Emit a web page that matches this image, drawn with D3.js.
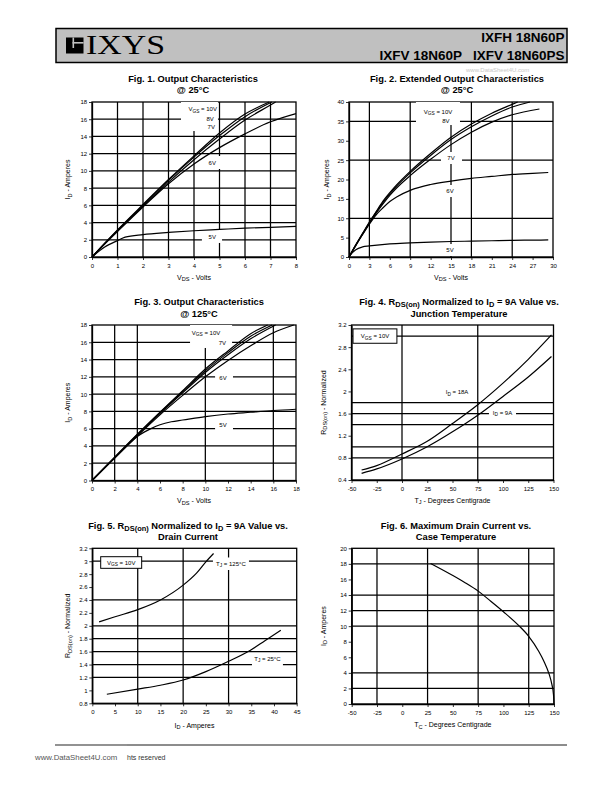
<!DOCTYPE html>
<html><head><meta charset="utf-8">
<script src="https://cdn.jsdelivr.net/npm/d3@7"></script>
<style>body{margin:0;background:#fff} svg{display:block}</style>
</head><body>
<svg id="c" width="595" height="791"></svg>
<script>
// ---------------- DATA ----------------
// Fig 1: Output characteristics @25C  (VDS volts, ID amperes)
const fig1_vds_10V = [0, 0.5, 1, 2, 3, 4, 5, 6, 6.95];
const fig1_id_10V  = [0, 1.6, 3.15, 6.1, 9.0, 11.75, 14.4, 16.6, 18];
const fig1_vds_8V  = [0, 0.5, 1, 2, 3, 4, 5, 6, 7.05];
const fig1_id_8V   = [0, 1.58, 3.1, 6.0, 8.9, 11.6, 14.1, 16.3, 18];
const fig1_vds_7V  = [0, 0.5, 1, 2, 3, 4, 5, 6, 7, 7.2];
const fig1_id_7V   = [0, 1.55, 3.05, 5.9, 8.7, 11.3, 13.7, 15.9, 17.65, 18];
const fig1_vds_6V  = [0, 0.5, 1, 2, 3, 4, 5, 6, 7, 8];
const fig1_id_6V   = [0, 1.5, 2.95, 5.8, 8.5, 10.8, 12.7, 14.3, 15.7, 16.65];
const fig1_vds_5V  = [0, 0.5, 1, 1.3, 2, 3, 4, 5, 6, 7, 8];
const fig1_id_5V   = [0, 1.15, 1.9, 2.3, 2.6, 2.85, 3.05, 3.2, 3.35, 3.45, 3.55];
const fig1_xTicks = [0, 1, 2, 3, 4, 5, 6, 7, 8];
const fig1_yTicks = [0, 2, 4, 6, 8, 10, 12, 14, 16, 18];

// Fig 2: Extended output characteristics @25C
const fig2_vds_10V = [0, 1, 2, 3, 4, 5, 6, 7, 9, 12, 15, 18, 21, 24, 24.8];
const fig2_id_10V  = [0, 3.15, 6.1, 9.0, 11.75, 14.4, 16.6, 18.6, 22.1, 26.7, 30.9, 34.3, 37.1, 39.4, 40];
const fig2_vds_8V  = [0, 1, 2, 3, 4, 5, 6, 7, 9, 12, 15, 18, 21, 24, 26.6];
const fig2_id_8V   = [0, 3.1, 6.0, 8.9, 11.6, 14.1, 16.3, 18.3, 21.7, 26.2, 30.3, 33.6, 36.4, 38.7, 40];
const fig2_vds_7V  = [0, 1, 2, 3, 4, 5, 6, 7, 9, 12, 15, 18, 21, 24, 28];
const fig2_id_7V   = [0, 3.05, 5.9, 8.7, 11.3, 13.7, 15.9, 17.8, 21.0, 25.2, 29.0, 32.2, 34.8, 36.7, 38.2];
const fig2_vds_6V  = [0, 1, 2, 3, 4, 5, 6, 7, 9, 12, 15, 18, 21, 24, 27, 29.3];
const fig2_id_6V   = [0, 2.95, 5.8, 8.5, 10.9, 12.7, 14.3, 15.5, 17.2, 18.7, 19.6, 20.3, 20.8, 21.3, 21.6, 21.8];
const fig2_vds_5V  = [0, 0.5, 1, 2, 3, 6, 9, 12, 15, 18, 21, 24, 27, 29.3];
const fig2_id_5V   = [0, 1.15, 1.9, 2.6, 2.85, 3.4, 3.65, 3.85, 4.0, 4.1, 4.2, 4.3, 4.35, 4.4];
const fig2_xTicks = [0, 3, 6, 9, 12, 15, 18, 21, 24, 27, 30];
const fig2_yTicks = [0, 5, 10, 15, 20, 25, 30, 35, 40];

// Fig 3: Output characteristics @125C
const fig3_vds_10V = [0, 2, 4, 6, 8, 10, 12, 14, 15.5];
const fig3_id_10V  = [0, 2.7, 5.35, 7.9, 10.4, 12.9, 15.0, 17.0, 18];
const fig3_vds_8V  = [0, 2, 4, 6, 8, 10, 12, 14, 15.9];
const fig3_id_8V   = [0, 2.68, 5.3, 7.85, 10.3, 12.7, 14.8, 16.7, 18];
const fig3_vds_7V  = [0, 2, 4, 6, 8, 10, 12, 14, 16.2];
const fig3_id_7V   = [0, 2.65, 5.25, 7.75, 10.15, 12.5, 14.55, 16.4, 18];
const fig3_vds_6V  = [0, 2, 4, 6, 8, 10, 12, 14, 16, 17.8];
const fig3_id_6V   = [0, 2.6, 5.15, 7.6, 9.85, 12.0, 13.9, 15.6, 17.1, 18];
const fig3_vds_5V  = [0, 2, 4, 4.6, 5.2, 6, 7, 8, 10, 12, 14, 16, 18];
const fig3_id_5V   = [0, 2.6, 5.1, 5.6, 6.0, 6.45, 6.8, 7.0, 7.4, 7.7, 7.9, 8.1, 8.25];
const fig3_xTicks = [0, 2, 4, 6, 8, 10, 12, 14, 16, 18];
const fig3_yTicks = [0, 2, 4, 6, 8, 10, 12, 14, 16, 18];

// Fig 4: RDS(on) normalized vs junction temperature
const fig4_tj       = [-40, -25, 0, 25, 50, 75, 100, 125, 148];
const fig4_r_18A    = [0.58, 0.66, 0.87, 1.1, 1.42, 1.76, 2.15, 2.58, 3.02];
const fig4_r_9A     = [0.52, 0.6, 0.78, 1.0, 1.27, 1.57, 1.91, 2.26, 2.63];
const fig4_xTicks = [-50, -25, 0, 25, 50, 75, 100, 125, 150];
const fig4_yTicks = [0.4, 0.8, 1.2, 1.6, 2.0, 2.4, 2.8, 3.2];

// Fig 5: RDS(on) normalized vs drain current
const fig5_id_125C = [1.5, 5, 10, 15, 20, 23, 25, 26.7];
const fig5_r_125C  = [2.06, 2.14, 2.25, 2.4, 2.63, 2.82, 2.99, 3.12];
const fig5_id_25C  = [3.2, 10, 15, 20, 25, 30, 35, 38, 41.5];
const fig5_r_25C   = [0.94, 1.02, 1.08, 1.16, 1.29, 1.45, 1.63, 1.77, 1.93];
const fig5_xTicks = [0, 5, 10, 15, 20, 25, 30, 35, 40, 45];
const fig5_yTicks = [0.8, 1, 1.2, 1.4, 1.6, 1.8, 2, 2.2, 2.4, 2.6, 2.8, 3, 3.2];

// Fig 6: Maximum drain current vs case temperature
const fig6_tc = [28, 50, 62.5, 75, 87.5, 100, 115, 125, 135, 140, 145, 148, 149.5, 150];
const fig6_id = [18.05, 16.5, 15.55, 14.5, 13.2, 11.85, 10.1, 8.7, 6.75, 5.5, 3.9, 2.45, 1.2, 0];
const fig6_xTicks = [-50, -25, 0, 25, 50, 75, 100, 125, 150];
const fig6_yTicks = [0, 2, 4, 6, 8, 10, 12, 14, 16, 18, 20];

// ---------------- DRAWING ----------------
const svg = d3.select('#c');
const FONT = '"Liberation Sans", Arial, Helvetica, sans-serif';

function rich(t, parts, size) {
  let shifted = false;
  parts.forEach(p => {
    const ts = t.append('tspan');
    if (typeof p === 'string') {
      ts.text(p);
      if (shifted) { ts.attr('dy', -size * 0.22); shifted = false; }
    } else {
      ts.text(p.s).attr('font-size', size * 0.8).attr('dy', size * 0.22);
      shifted = true;
    }
  });
}
const sub = s => ({s});

function chart(c) {
  const g = svg.append('g');
  const x = d3.scaleLinear().domain(c.xd).range([c.L, c.R]);
  const y = d3.scaleLinear().domain(c.yd).range([c.B, c.T]);

  const grid = g.append('g').attr('stroke', '#000').attr('stroke-width', 1.25);
  grid.selectAll('line.v').data(c.vGrid).join('line').attr('class', 'v')
    .attr('x1', d => x(d)).attr('x2', d => x(d)).attr('y1', c.T).attr('y2', c.B);
  grid.selectAll('line.h').data(c.hGrid).join('line').attr('class', 'h')
    .attr('y1', d => y(d)).attr('y2', d => y(d)).attr('x1', c.L).attr('x2', c.R);

  g.append('rect').attr('x', c.L).attr('y', c.T).attr('width', c.R - c.L).attr('height', c.B - c.T)
    .attr('fill', 'none').attr('stroke', '#000').attr('stroke-width', 1.3);

  g.append('g').selectAll('rect').data(c.masks || []).join('rect')
    .attr('x', d => x(d[0])).attr('y', d => y(d[3]))
    .attr('width', d => x(d[1]) - x(d[0])).attr('height', d => y(d[2]) - y(d[3]))
    .attr('fill', '#fff');
  g.append('g').selectAll('rect').data(c.boxes || []).join('rect')
    .attr('x', d => x(d[0])).attr('y', d => y(d[3]))
    .attr('width', d => x(d[1]) - x(d[0])).attr('height', d => y(d[2]) - y(d[3]))
    .attr('fill', '#fff').attr('stroke', '#000').attr('stroke-width', 1);

  const fmt = d => String(+d.toFixed(2));
  const ax = g.append('g').attr('transform', `translate(0,${c.B})`)
    .call(d3.axisBottom(x).tickValues(c.xTicks).tickSize(3).tickSizeOuter(0).tickPadding(3.5).tickFormat(fmt));
  const ay = g.append('g').attr('transform', `translate(${c.L},0)`)
    .call(d3.axisLeft(y).tickValues(c.yTicks).tickSize(3).tickSizeOuter(0).tickPadding(1.8).tickFormat(fmt));
  [ax, ay].forEach(a => {
    a.attr('font-size', 6).attr('font-family', FONT);
    a.select('.domain').attr('stroke-width', 1.3);
    a.selectAll('.tick line').attr('stroke-width', 0.8);
  });

  const line = d3.line().x(d => x(d[0])).y(d => y(d[1])).curve(d3.curveMonotoneX);
  g.append('g').selectAll('path').data(c.series).join('path')
    .attr('d', s => line(d3.zip(s[0], s[1])))
    .attr('fill', 'none').attr('stroke', '#000').attr('stroke-width', 1.2);

  (c.labels || []).forEach(l => {
    const t = g.append('text').attr('x', x(l.x)).attr('y', y(l.y))
      .attr('text-anchor', l.a || 'middle').attr('font-family', FONT).attr('font-size', 6);
    rich(t, l.t, 6);
  });

  c.title.forEach((parts, i) => {
    const t = g.append('text').attr('x', c.tx).attr('y', c.ty + i * 11.5)
      .attr('text-anchor', 'middle').attr('font-family', FONT).attr('font-size', 9.3).attr('font-weight', 'bold');
    rich(t, parts, 9.3);
  });

  const xt = g.append('text').attr('x', (c.L + c.R) / 2).attr('y', c.B + c.xto)
    .attr('text-anchor', 'middle').attr('font-family', FONT).attr('font-size', 7);
  rich(xt, c.xTitle, 7);
  const yt = g.append('text')
    .attr('transform', `translate(${c.L - c.yto},${(c.T + c.B) / 2}) rotate(-90)`)
    .attr('text-anchor', 'middle').attr('font-family', FONT).attr('font-size', 7);
  rich(yt, c.yTitle, 7);
}

const VGS = [ 'V', sub('GS'), ' = 10V' ];

chart({
  L: 92, R: 296, T: 102, B: 257, xd: [0, 8], yd: [0, 18],
  xTicks: fig1_xTicks, yTicks: fig1_yTicks,
  vGrid: [1, 2, 3, 4, 5, 6, 7], hGrid: [2, 4, 6, 8, 10, 12, 14, 16],
  masks: [[3.49, 4.94, 14.63, 18], [4.31, 5.1, 10.22, 11.73], [4.31, 5.1, 1.63, 3.14]],
  series: [[fig1_vds_10V, fig1_id_10V], [fig1_vds_8V, fig1_id_8V], [fig1_vds_7V, fig1_id_7V],
           [fig1_vds_6V, fig1_id_6V], [fig1_vds_5V, fig1_id_5V]],
  labels: [
    {t: VGS, x: 4.9, y: 16.9, a: 'end'},
    {t: ['8V'], x: 4.78, y: 15.8, a: 'end'},
    {t: ['7V'], x: 4.82, y: 14.86, a: 'end'},
    {t: ['6V'], x: 4.86, y: 10.68, a: 'end'},
    {t: ['5V'], x: 4.86, y: 2.09, a: 'end'}],
  title: [['Fig. 1. Output Characteristics'], ['@ 25\u00B0C']], tx: 193, ty: 81.5,
  xTitle: ['V', sub('DS'), ' - Volts'], xto: 22.5,
  yTitle: ['I', sub('D'), ' - Amperes'], yto: 22
});

chart({
  L: 349, R: 553, T: 102, B: 257, xd: [0, 30], yd: [0, 40],
  xTicks: fig2_xTicks, yTicks: fig2_yTicks,
  vGrid: [3, 9, 15, 18, 24], hGrid: [10, 25, 35],
  masks: [[9.85, 16.32, 34.06, 40], [13.53, 16.62, 24.0, 27.1], [13.53, 16.62, 15.48, 18.58], [13.53, 16.62, 0.26, 3.35]],
  series: [[fig2_vds_10V, fig2_id_10V], [fig2_vds_8V, fig2_id_8V], [fig2_vds_7V, fig2_id_7V],
           [fig2_vds_6V, fig2_id_6V], [fig2_vds_5V, fig2_id_5V]],
  labels: [
    {t: VGS, x: 13.09, y: 36.9},
    {t: ['8V'], x: 14.26, y: 34.58},
    {t: ['7V'], x: 15.0, y: 25.03},
    {t: ['6V'], x: 14.85, y: 16.5},
    {t: ['5V'], x: 14.85, y: 1.29}],
  title: [['Fig. 2. Extended Output Characteristics'], ['@ 25\u00B0C']], tx: 457, ty: 81.5,
  xTitle: ['V', sub('DS'), ' - Volts'], xto: 22.5,
  yTitle: ['I', sub('D'), ' - Amperes'], yto: 20
});

chart({
  L: 92, R: 296, T: 325, B: 480.5, xd: [0, 18], yd: [0, 18],
  xTicks: fig3_xTicks, yTicks: fig3_yTicks,
  vGrid: [2, 4, 10, 16], hGrid: [2, 4, 6, 8, 10, 12, 14, 16],
  masks: [[8.65, 12.36, 15.34, 18], [10.86, 12.44, 11.05, 12.68], [10.86, 12.44, 5.73, 7.23]],
  series: [[fig3_vds_10V, fig3_id_10V], [fig3_vds_8V, fig3_id_8V], [fig3_vds_7V, fig3_id_7V],
           [fig3_vds_6V, fig3_id_6V], [fig3_vds_5V, fig3_id_5V]],
  labels: [
    {t: VGS, x: 10.06, y: 16.84},
    {t: ['7V'], x: 11.83, y: 15.74, a: 'end'},
    {t: ['6V'], x: 11.56, y: 11.58},
    {t: ['5V'], x: 11.56, y: 6.19}],
  title: [['Fig. 3. Output Characteristics'], ['@ 125\u00B0C']], tx: 199, ty: 305,
  xTitle: ['V', sub('DS'), ' - Volts'], xto: 22.5,
  yTitle: ['I', sub('D'), ' - Amperes'], yto: 22
});

chart({
  L: 351.5, R: 553.5, T: 325, B: 480, xd: [-50, 150], yd: [0.4, 3.2],
  xTicks: fig4_xTicks, yTicks: fig4_yTicks,
  vGrid: [0, 75], hGrid: [0.8, 1.0, 1.4, 1.6, 1.8, 3.0],
  masks: [[41.4, 67.2, 1.92, 2.15], [86.1, 112.9, 1.48, 1.71]],
  boxes: [[-48.5, -5.05, 2.87, 3.13]],
  series: [[fig4_tj, fig4_r_18A], [fig4_tj, fig4_r_9A]],
  labels: [
    {t: VGS, x: -26.7, y: 2.96},
    {t: ['I', sub('D'), ' = 18A'], x: 54.5, y: 1.95},
    {t: ['I', sub('D'), ' = 9A'], x: 99.5, y: 1.576}],
  title: [['Fig. 4. R', sub('DS(on)'), ' Normalized to I', sub('D'), ' = 9A Value vs.'], ['Junction Temperature']], tx: 459, ty: 305,
  xTitle: ['T', sub('J'), ' - Degrees Centigrade'], xto: 22.5,
  yTitle: ['R', sub('DS(on)'), ' - Normalized'], yto: 26
});

chart({
  L: 92.3, R: 296.7, T: 548.3, B: 703.3, xd: [0, 45], yd: [0.8, 3.2],
  xTicks: fig5_xTicks, yTicks: fig5_yTicks,
  vGrid: [10, 20, 30], hGrid: [1.2, 1.4, 1.6, 1.8, 2.0, 2.4, 3.0],
  masks: [[26.56, 34.49, 2.864, 3.058], [35.15, 41.97, 1.347, 1.548]],
  boxes: [[1.85, 10.87, 2.89, 3.07]],
  series: [[fig5_id_125C, fig5_r_125C], [fig5_id_25C, fig5_r_25C]],
  labels: [
    {t: VGS, x: 6.36, y: 2.94},
    {t: ['T', sub('J'), ' = 125\u00B0C'], x: 30.52, y: 2.93},
    {t: ['T', sub('J'), ' = 25\u00B0C'], x: 38.56, y: 1.455}],
  title: [['Fig. 5. R', sub('DS(on)'), ' Normalized to I', sub('D'), ' = 9A Value vs.'], ['Drain Current']], tx: 188, ty: 528.5,
  xTitle: ['I', sub('D'), ' - Amperes'], xto: 24.5,
  yTitle: ['R', sub('DS(on)'), ' - Normalized'], yto: 22
});

chart({
  L: 351.7, R: 554, T: 548.3, B: 704, xd: [-50, 150], yd: [0, 20],
  xTicks: fig6_xTicks, yTicks: fig6_yTicks,
  vGrid: [-25, 25, 75, 125], hGrid: [2, 4, 10, 12, 14, 18],
  series: [[fig6_tc, fig6_id]],
  labels: [],
  title: [['Fig. 6. Maximum Drain Current vs.'], ['Case Temperature']], tx: 456, ty: 528.5,
  xTitle: ['T', sub('C'), ' - Degrees Centigrade'], xto: 23,
  yTitle: ['I', sub('D'), ' - Amperes'], yto: 26
});

// ---------------- HEADER ----------------
const hdr = svg.append('g');
hdr.append('rect').attr('x', 56).attr('y', 28.5).attr('width', 511).attr('height', 34)
  .attr('fill', '#c0c0c0').attr('stroke', '#000').attr('stroke-width', 1.5);
hdr.append('rect').attr('x', 66).attr('y', 37.5).attr('width', 17.5).attr('height', 16).attr('fill', '#000');
hdr.append('rect').attr('x', 72.5).attr('y', 37.5).attr('width', 1.6).attr('height', 10.5).attr('fill', '#c0c0c0');
hdr.append('rect').attr('x', 72.5).attr('y', 42).attr('width', 11).attr('height', 1.6).attr('fill', '#c0c0c0');
hdr.append('text').attr('x', 86).attr('y', 54.3).attr('font-family', '"Liberation Serif", "Times New Roman", serif')
  .attr('font-size', 27).attr('textLength', 79).attr('lengthAdjust', 'spacingAndGlyphs').text('IXYS');
hdr.append('text').attr('x', 564.5).attr('y', 41.5).attr('text-anchor', 'end').attr('font-family', FONT)
  .attr('font-weight', 'bold').attr('font-size', 13.5).text('IXFH 18N60P');
hdr.append('text').attr('x', 462).attr('y', 59.5).attr('text-anchor', 'end').attr('font-family', FONT)
  .attr('font-weight', 'bold').attr('font-size', 13.5).text('IXFV 18N60P');
hdr.append('text').attr('x', 564.5).attr('y', 59.5).attr('text-anchor', 'end').attr('font-family', FONT)
  .attr('font-weight', 'bold').attr('font-size', 13.5).text('IXFV 18N60PS');
hdr.append('text').attr('x', 466).attr('y', 71.5).attr('font-family', FONT).attr('font-size', 6)
  .attr('fill', '#c8c8c8').text('www.DataSheet4U.com');

// ---------------- FOOTER ----------------
svg.append('line').attr('x1', 55).attr('x2', 567).attr('y1', 745).attr('y2', 745).attr('stroke', '#000').attr('stroke-width', 0.9);
svg.append('line').attr('x1', 55).attr('x2', 127).attr('y1', 745).attr('y2', 745).attr('stroke', '#999').attr('stroke-width', 0.9);
svg.append('text').attr('x', 35).attr('y', 760).attr('font-family', FONT).attr('font-size', 7.8).attr('fill', '#555').text('www.DataSheet4U.com');
svg.append('text').attr('x', 127).attr('y', 760).attr('font-family', FONT).attr('font-size', 7).attr('fill', '#333').text('hts reserved');
</script>
</body></html>
